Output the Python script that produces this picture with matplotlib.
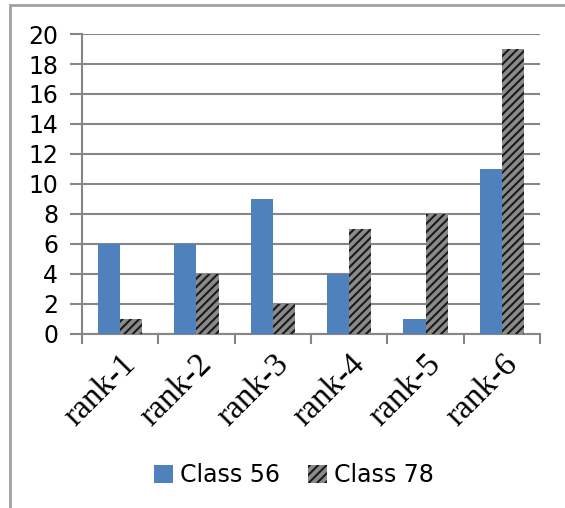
import numpy as np
import matplotlib
matplotlib.use("Agg")
import matplotlib.pyplot as plt
from matplotlib.patches import Rectangle

categories = ["rank-1", "rank-2", "rank-3", "rank-4", "rank-5", "rank-6"]
class56 = [6, 6, 9, 4, 1, 11]
class78 = [1, 4, 2, 7, 8, 19]
series_names = ["Class 56", "Class 78"]

grid_col = "#868686"
plt.rcParams["hatch.linewidth"] = 1.5
plt.rcParams["hatch.color"] = "#1a1a1a"

fig = plt.figure(figsize=(5.65, 5.08), dpi=100)
ax = fig.add_axes([0.145, 0.343, 0.811, 0.590])

x = np.arange(len(categories))
w = 0.29
ax.bar(x - w / 2, class56, w, color="#4F81BD", edgecolor="#4F81BD", linewidth=0,
       label=series_names[0], zorder=3)
ax.bar(x + w / 2, class78, w, color="#8a8a8a", edgecolor="#1a1a1a", hatch="////",
       linewidth=0, label=series_names[1], zorder=3)

ax.set_xlim(-0.5, len(categories) - 0.5)
ax.set_ylim(0, 20)
ax.set_yticks(range(0, 21, 2))
ax.yaxis.grid(True, color=grid_col, linewidth=1.5, zorder=0)
ax.set_axisbelow(True)

for s in ["top", "right"]:
    ax.spines[s].set_visible(False)
for s in ["left", "bottom"]:
    ax.spines[s].set_color(grid_col)
    ax.spines[s].set_linewidth(1.5)

ax.tick_params(axis="y", length=9, width=1.5, color=grid_col, labelsize=17, pad=8)
# category boundaries get the tick marks, labels sit between them
ax.set_xticks(np.arange(-0.5, len(categories)), minor=False)
ax.set_xticklabels([])
ax.set_xticks(x, minor=True)
ax.set_xticklabels(categories, minor=True, rotation=45, ha="right", va="top",
                   rotation_mode="anchor", family="Liberation Serif", fontsize=24)
ax.tick_params(axis="x", which="major", length=7, width=1.5, color=grid_col)
ax.tick_params(axis="x", which="minor", length=0, pad=11)

fig.legend(loc="lower center", bbox_to_anchor=(0.52, 0.0), ncol=2, frameon=False,
           fontsize=17, handlelength=0.8, handleheight=0.8, handletextpad=0.3,
           columnspacing=1.2)

fig.add_artist(Rectangle((10 / 565, -0.05), 1.2, 1 - 5 / 508 + 0.05,
                         transform=fig.transFigure, fill=False,
                         edgecolor="#a0a0a0", linewidth=2))

fig.savefig("out.png", dpi=100)
